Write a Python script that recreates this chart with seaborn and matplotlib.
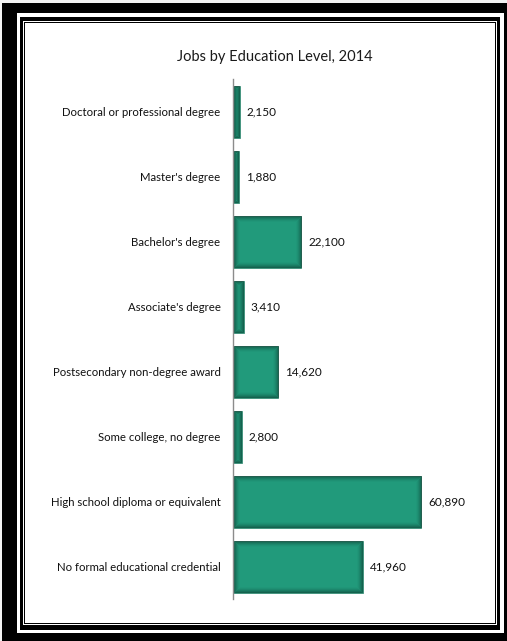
import matplotlib
matplotlib.use("Agg")
import matplotlib.pyplot as plt
from matplotlib.patches import Rectangle
import pandas as pd
import seaborn as sns

# Data
education_levels = [
    "Doctoral or professional degree",
    "Master's degree",
    "Bachelor's degree",
    "Associate's degree",
    "Postsecondary non-degree award",
    "Some college, no degree",
    "High school diploma or equivalent",
    "No formal educational credential",
]
jobs = [2150, 1880, 22100, 3410, 14620, 2800, 60890, 41960]
chart_title = "Jobs by Education Level, 2014"

df = pd.DataFrame({"level": education_levels, "jobs": jobs})

W, H = 507, 641
sns.set_theme(style="white")
plt.rcParams["font.family"] = ["Lato", "DejaVu Sans"]

fig = plt.figure(figsize=(W / 100, H / 100), dpi=100)


def px_rect(x0, y0, x1, y1, color):
    # rectangle given in pixel coords measured from top-left
    fig.patches.append(Rectangle((x0 / W, 1 - y1 / H), (x1 - x0) / W, (y1 - y0) / H,
                                 transform=fig.transFigure, facecolor=color,
                                 edgecolor="none", zorder=-5))


# Picture frame: thick outer band, thinner inner band, thin line
px_rect(0, 0, W, H, "#f2f2f2")
px_rect(2, 3, 507, 641, "black")
px_rect(17, 13, 504, 633, "white")
px_rect(20, 17, 500, 630, "black")
px_rect(23, 21, 497, 625, "white")
px_rect(24, 22, 496, 624, "black")
px_rect(25, 23, 495, 623, "white")

ax = fig.add_axes([233 / W, 1 - 599 / H, 237 / W, 520 / H])
ax.set_facecolor("none")
ax.set_zorder(5)

sns.barplot(data=df, y="level", x="jobs", orient="h", ax=ax, color="#219a7b",
            width=0.8, edgecolor="#2a7f68", linewidth=0.5, saturation=1)

ax.set_xlim(0, 76750)
ax.set_ylim(7.5, -0.5)
ax.set_xlabel("")
ax.set_ylabel("")
ax.set_xticks([])
ax.tick_params(axis="y", length=0, pad=9, labelsize=8.2, labelcolor="#111111")

for side in ["top", "right", "bottom"]:
    ax.spines[side].set_visible(False)
ax.spines["left"].set_color("#8c8c8c")
ax.spines["left"].set_linewidth(1)

# inner shadow on the bars, a few inset outlines fading toward the centre
fig.canvas.draw()
for bar in ax.patches:
    bb = bar.get_window_extent()
    for i in range(6):
        inset = i + 0.5
        w = bb.width - 2 * inset
        h = bb.height - 2 * inset
        if w <= 0 or h <= 0:
            break
        shade = Rectangle((bb.x0 + inset, bb.y0 + inset), w, h, transform=None,
                          facecolor="none", edgecolor="#0c3d30",
                          linewidth=0.72, alpha=0.6 * (1 - i / 6) ** 1.6)
        shade.set_clip_path(bar)
        ax.add_artist(shade)

ax.bar_label(ax.containers[0], labels=[f"{v:,}" for v in jobs], padding=5,
             fontsize=8.5, color="#111111")

fig.text(275 / W, 1 - 57 / H, chart_title, ha="center", va="center",
         fontsize=10.5, color="#1a1a1a", zorder=6)

fig.savefig("out.png", dpi=100)
